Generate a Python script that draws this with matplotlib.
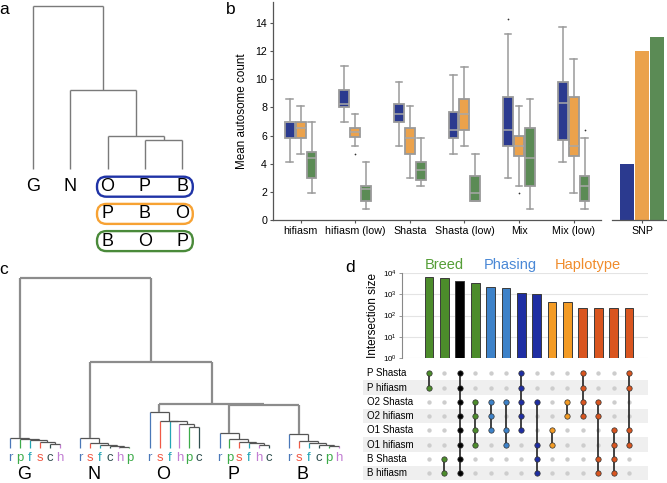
import numpy as np
import matplotlib.pyplot as plt
from matplotlib.patches import FancyBboxPatch
from matplotlib.transforms import blended_transform_factory

plt.rcParams['font.family'] = ['Liberation Sans', 'DejaVu Sans']

# ---------------- data ----------------
# a: breed tree and the three orderings seen across chromosomes
a_leaves = ['G', 'N', 'O', 'P', 'B']
a_merges = [(3, 4, 29.3), (2, 5, 33.6), (1, 6, 79.3), (0, 7, 163.3)]
a_orders = [['O', 'P', 'B'], ['P', 'B', 'O'], ['B', 'O', 'P']]
a_order_colors = ['#1f33a6', '#f7a233', '#4a8a3a']

# b: mean autosome count per topology (whislo, q1, med, q3, whishi, fliers)
assemblers = ['hifiasm', 'hifiasm (low)', 'Shasta', 'Shasta (low)', 'Mix', 'Mix (low)']
blue_box = [(4.11, 5.80, 6.96, 6.96, 8.63, []),
            (6.94, 8.06, 8.22, 9.24, 10.95, []),
            (5.27, 6.94, 7.56, 8.25, 9.79, []),
            (4.68, 5.85, 6.42, 7.65, 10.34, []),
            (2.99, 5.27, 6.39, 8.77, 13.21, [14.3]),
            (4.13, 5.68, 8.34, 9.79, 13.76, [])]
orange_box = [(4.68, 5.80, 6.56, 6.96, 8.08, []),
              (5.27, 5.87, 6.27, 6.56, 7.51, [4.68]),
              (2.99, 4.68, 5.85, 6.56, 8.08, []),
              (5.27, 6.39, 7.51, 8.63, 10.90, []),
              (2.42, 4.56, 5.27, 5.94, 8.08, [1.88]),
              (1.88, 4.56, 5.27, 8.77, 11.48, [])]
green_box = [(1.88, 2.95, 4.40, 4.85, 6.94, []),
             (0.74, 1.31, 2.21, 2.42, 4.11, []),
             (2.42, 2.83, 3.56, 4.13, 5.85, []),
             (1.31, 1.31, 1.88, 3.14, 4.68, []),
             (0.74, 2.42, 4.37, 6.54, 8.63, []),
             (0.74, 1.31, 2.42, 3.14, 5.85, [6.39])]
snp_counts = [4, 12, 13]
topo_colors = ['#2b3a8f', '#eba24c', '#5b8b55']

# c: per-breed assembly trees
clusters = ['G', 'N', 'O', 'P', 'B']
cluster_leaves = ['rpfsch', 'rsfchp', 'rsfhpc', 'rpsfhc', 'rsfcph']
cluster_heights = [[10.0, 9.0, 7.7, 5.7, 3.7],
                   [10.0, 4.7, 2.7, 2.0, 1.3],
                   [35.7, 27.3, 27.0, 24.0, 21.3],
                   [14.7, 8.7, 6.3, 5.3, 3.0],
                   [13.7, 7.0, 4.7, 3.0, 2.0]]
c_merges = [(3, 4, 42.7), (2, 5, 44.0), (1, 6, 86.0), (0, 7, 170.0)]
leaf_colors = {'r': '#4a78b8', 'p': '#3dab4a', 'f': '#23a5b5',
               's': '#f05a46', 'c': '#2f4f4f', 'h': '#c27ed3'}

# d: upset of assemblies
set_names = ['P Shasta', 'P hifiasm', 'O2 Shasta', 'O2 hifiasm',
             'O1 Shasta', 'O1 hifiasm', 'B Shasta', 'B hifiasm']
inter_sizes = [6450, 5800, 4500, 3550, 2230, 2050, 1200, 1070, 445, 415, 230, 230, 230, 230]
inter_members = [[0, 1], [6, 7], [0, 1, 2, 3, 4, 5, 6, 7], [2, 3, 4, 5],
                 [2, 3, 4], [2, 4, 5], [0, 1, 2, 3, 4], [2, 5, 6, 7],
                 [4, 5], [2, 3], [0, 1, 2, 3], [2, 3, 6, 7], [4, 5, 6, 7], [0, 1, 4, 5]]
inter_colors = ['#4c8c2b', '#4c8c2b', '#000000', '#4c8c2b',
                '#3d82c9', '#3d82c9', '#1f2ea3', '#1f2ea3',
                '#f39b24', '#f39b24', '#d9551f', '#d9551f', '#d9551f', '#d9551f']
group_titles = ['Breed', 'Phasing', 'Haplotype']
group_colors = ['#559e37', '#4a88d6', '#f08c2c']

# ---------------- layout ----------------
W, H = 667, 483
fig = plt.figure(figsize=(W / 100, H / 100), dpi=100)


def px_axes(x0, y0, x1, y1):
    return fig.add_axes([x0 / W, 1 - y1 / H, (x1 - x0) / W, (y1 - y0) / H])


def draw_tree(ax, xs, hs, merges, color, lw, vcolors=None):
    """Draw a linkage (scipy-like node numbering); returns top node position."""
    xs, hs = list(xs), list(hs)
    n = len(xs)
    for i, j, h in merges:
        for k in (i, j):
            vc = vcolors[k] if (vcolors is not None and k < n) else color
            ax.plot([xs[k], xs[k]], [hs[k], h], color=vc, lw=lw, solid_capstyle='butt')
        ax.plot([xs[i], xs[j]], [h, h], color=color, lw=lw, solid_capstyle='butt')
        xs.append((xs[i] + xs[j]) / 2)
        hs.append(h)
    return xs[-1], hs[-1]


def panel_label(x, y, s):
    fig.text(x / W, 1 - y / H, s, fontsize=12.5, ha='center', va='center')


# ---------------- a ----------------
ax_a = px_axes(0, 0, 200, 255)
ax_a.set_xlim(0, 200)
ax_a.set_ylim(169.3 - 255, 169.3)
ax_a.axis('off')
a_x = 32.7 + 37.4 * np.arange(len(a_leaves))
draw_tree(ax_a, a_x, np.zeros(len(a_leaves)), a_merges, '#7a7a7a', 1.0)
row_h = -17.4
for i in range(2):
    ax_a.text(a_x[i], row_h, a_leaves[i], fontsize=13, ha='center', va='center')
for r, (order, col) in enumerate(zip(a_orders, a_order_colors)):
    y = row_h - 27.2 * r
    ax_a.add_patch(FancyBboxPatch((a_x[2] - 10.5, y - 10), a_x[4] - a_x[2] + 21, 20,
                                  boxstyle='round,pad=0,rounding_size=9.5',
                                  fc='none', ec=col, lw=1.7))
    for k, name in enumerate(order):
        ax_a.text(a_x[2 + k], y, name, fontsize=13, ha='center', va='center')

# ---------------- b ----------------
ax_b = px_axes(273.3, 2.2, 600.9, 219.7)
offsets = [-0.2, 0.0, 0.2]
for s, (stats, col) in enumerate(zip([blue_box, orange_box, green_box], topo_colors)):
    bstats = [dict(whislo=lo, q1=q1, med=med, q3=q3, whishi=hi, fliers=fl)
              for lo, q1, med, q3, hi, fl in stats]
    ax_b.bxp(bstats, positions=np.arange(len(assemblers)) + offsets[s],
             widths=0.18, capwidths=0.12, patch_artist=True,
             boxprops=dict(facecolor=col, edgecolor='#9a9a9a', linewidth=1.3),
             medianprops=dict(color='#a8a8a8', linewidth=1.1),
             whiskerprops=dict(color='#9a9a9a', linewidth=1.1),
             capprops=dict(color='#9a9a9a', linewidth=1.1),
             flierprops=dict(marker='.', markersize=2.5, markerfacecolor='#333333',
                             markeredgecolor='none'))
ax_b.set_xlim(-0.5, 5.5)
ax_b.set_ylim(0, 15.5)
ax_b.set_yticks(np.arange(0, 15, 2))
ax_b.set_xticks(np.arange(len(assemblers)))
ax_b.set_xticklabels(assemblers)
ax_b.set_ylabel('Mean autosome count', fontsize=8.4)
ax_b.yaxis.set_label_coords(-0.077, 0.5)
for sp in ['top', 'right']:
    ax_b.spines[sp].set_visible(False)
for sp in ['left', 'bottom']:
    ax_b.spines[sp].set_color('#555555')
    ax_b.spines[sp].set_linewidth(0.9)
ax_b.tick_params(labelsize=7.7, length=2.5, width=0.8, color='#555555', pad=2)

ax_snp = px_axes(612, 2.2, 667, 219.7)
ax_snp.bar([-1, 0, 1], snp_counts, width=0.95, color=topo_colors)
ax_snp.set_xlim(-2, 1.67)
ax_snp.set_ylim(0, 15.5)
ax_snp.set_yticks([])
ax_snp.set_xticks([0])
ax_snp.set_xticklabels(['SNP'])
for sp in ['top', 'right', 'left']:
    ax_snp.spines[sp].set_visible(False)
ax_snp.spines['bottom'].set_color('#555555')
ax_snp.spines['bottom'].set_linewidth(0.9)
ax_snp.tick_params(labelsize=7.7, length=2.5, width=0.8, color='#555555', pad=2)

# ---------------- c ----------------
ax_c = px_axes(0, 255, 345, 483)
ax_c.set_xlim(0, 345)
ax_c.set_ylim(-35, 193)
ax_c.axis('off')
tops_x, tops_h = [], []
for k, (leaves, hts) in enumerate(zip(cluster_leaves, cluster_heights)):
    lx = 10.3 + 69.75 * k + 9.85 * np.arange(len(leaves))
    n = len(leaves)
    # caterpillar: leaf j joins everything to its right
    merges = []
    prev = n - 1
    for j in range(n - 2, -1, -1):
        merges.append((j, prev, hts[j]))
        prev = n + len(merges) - 1
    tx, th = draw_tree(ax_c, lx, np.zeros(n), merges, '#555555', 0.9,
                       vcolors=[leaf_colors[c] for c in leaves])
    tops_x.append(tx)
    tops_h.append(th)
    for x, c in zip(lx, leaves):
        ax_c.text(x, -10, c, color=leaf_colors[c], fontsize=9.5, ha='center', va='center')
    ax_c.text(tx + 4, -26.5, clusters[k], fontsize=13, ha='center', va='center')
draw_tree(ax_c, tops_x, tops_h, c_merges, '#8c8c8c', 1.6)

# ---------------- d ----------------
cols = np.arange(len(inter_sizes))
ax_d = px_axes(401.5, 273.3, 648, 357.7)
ax_d.bar(cols, inter_sizes, width=0.57, color=inter_colors, edgecolor='#3a3a3a', linewidth=0.7)
ax_d.set_yscale('log')
ax_d.set_ylim(1, 1e4)
ax_d.set_xlim(-1.79, 14.24)
ax_d.set_yticks([1, 10, 100, 1000, 10000])
ax_d.minorticks_off()
ax_d.set_xticks([])
ax_d.yaxis.grid(True, color='#e4e4e4', lw=0.8)
ax_d.set_axisbelow(True)
for sp in ['top', 'right', 'bottom']:
    ax_d.spines[sp].set_visible(False)
ax_d.spines['left'].set_color('#888888')
ax_d.tick_params(axis='y', labelsize=5.8, length=2, width=0.6, color='#888888', pad=1.5)
fig.text(373 / W, 1 - 316 / H, 'Intersection size', rotation=90, fontsize=8.5,
         ha='center', va='center')
trans = blended_transform_factory(ax_d.transData, ax_d.transAxes)
for title, col, gx in zip(group_titles, group_colors, [1.0, 5.3, 10.3]):
    ax_d.text(gx, 1.098, title, color=col, fontsize=10.5, ha='center', va='center',
              transform=trans)

ax_m = px_axes(363, 366.2, 648, 480.1)
ax_m.set_xlim(-4.29, 14.24)
ax_m.set_ylim(len(set_names) - 0.5, -0.5)
ax_m.axis('off')
for r, name in enumerate(set_names):
    if r % 2 == 1:
        ax_m.axhspan(r - 0.5, r + 0.5, color='#efefef', lw=0, zorder=0)
    ax_m.text(0.015, 1 - (r + 0.5) / len(set_names), name, fontsize=7,
              ha='left', va='center', transform=ax_m.transAxes)
gx, gy = np.meshgrid(cols, np.arange(len(set_names)))
ax_m.scatter(gx.ravel(), gy.ravel(), s=10, color='#cdcdcd', lw=0, zorder=1)
for c, members, col in zip(cols, inter_members, inter_colors):
    ax_m.plot([c, c], [min(members), max(members)], color='#222222', lw=1.2, zorder=2)
    ax_m.scatter([c] * len(members), members, s=15, color=col, edgecolor='#333333',
                 lw=0.5, zorder=3)

panel_label(4, 10, 'a')
panel_label(230.5, 9, 'b')
panel_label(4, 269.5, 'c')
panel_label(350.5, 268, 'd')

fig.savefig('out.png', dpi=100)
